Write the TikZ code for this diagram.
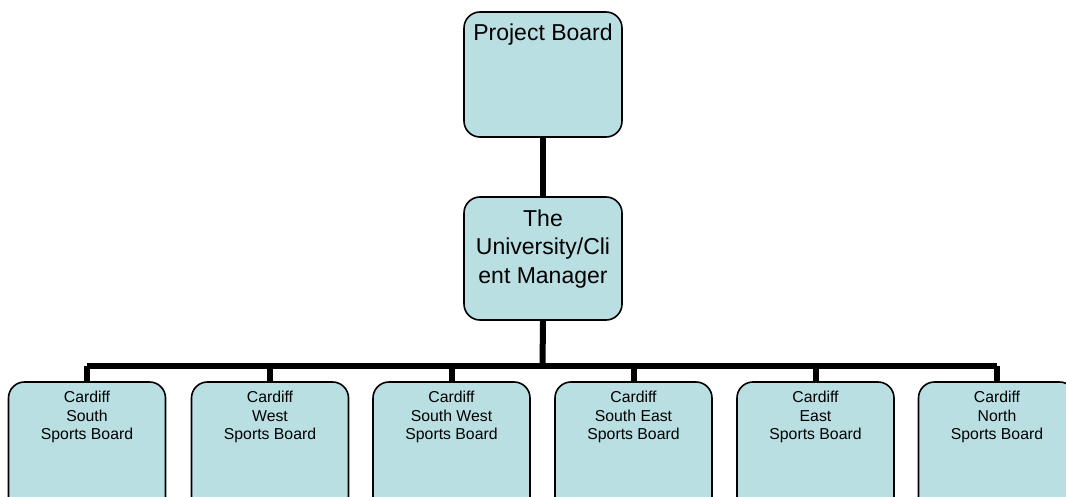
\documentclass[tikz,border=0pt]{standalone}
\usepackage{fontspec}
\setmainfont{Liberation Sans}
\usetikzlibrary{backgrounds}
\definecolor{boxfill}{RGB}{185,223,226}
\tikzset{
  orgbox/.style={draw=black, line width=1.6pt, fill=boxfill, rounded corners=16pt, inner sep=0pt},
  bigtext/.style={anchor=north, align=center, font=\fontsize{23}{28.5}\selectfont, inner sep=0pt},
  smalltext/.style={anchor=north, align=center, font=\fontsize{15.8}{18.5}\selectfont, inner sep=0pt},
  link/.style={line width=6pt, black}
}
\begin{document}
\begin{tikzpicture}[x=1pt, y=-1pt]
\useasboundingbox (0,0) rectangle (1066,497);
\clip (0,0) rectangle (1066,497);
\coordinate (bar) at (542.5,366);
\node[orgbox, minimum width=158pt, minimum height=125pt] (pb) at (543,74.5) {};
\node[orgbox, minimum width=158pt, minimum height=123pt] (um) at (543,258.5) {};
\foreach \n/\x in {b1/87, b2/270, b3/451.5, b4/633.5, b5/815.5, b6/997}{
  \node[orgbox, minimum width=157pt, minimum height=140pt] (\n) at (\x,452) {};
}
\begin{scope}[on background layer]
\draw[link] (pb.south) -- (um.north);
\draw[link] (um.south) -- (bar);
\draw[link] (b1.north |- bar) -- (b6.north |- bar);
\foreach \n in {b1,b2,b3,b4,b5,b6}{
  \draw[link] (\n.north |- bar) -- (\n.north);
}
\end{scope}
% texts
\node[bigtext] (tpb) at ([yshift=-12pt]pb.north) {Project Board};
\node[bigtext] (tum) at ([yshift=-13pt]um.north) {The\\University/Cli\\ent Manager};
\node[smalltext] (t1) at ([yshift=-10pt]b1.north) {Cardiff\\South\\Sports Board};
\node[smalltext] (t2) at ([yshift=-10pt]b2.north) {Cardiff\\West\\Sports Board};
\node[smalltext] (t3) at ([yshift=-10pt]b3.north) {Cardiff\\South West\\Sports Board};
\node[smalltext] (t4) at ([yshift=-10pt]b4.north) {Cardiff\\South East\\Sports Board};
\node[smalltext] (t5) at ([yshift=-10pt]b5.north) {Cardiff\\East\\Sports Board};
\node[smalltext] (t6) at ([yshift=-10pt]b6.north) {Cardiff\\North\\Sports Board};
\end{tikzpicture}
\end{document}
